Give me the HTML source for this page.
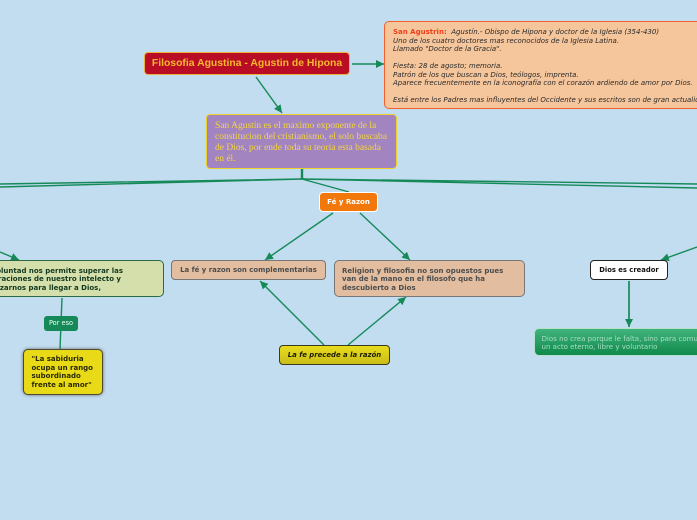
<!DOCTYPE html>
<html><head><meta charset="utf-8">
<style>
html,body{margin:0;padding:0}
body{width:697px;height:520px;background:#c2dcf0;position:relative;overflow:hidden;font-family:"DejaVu Sans","Liberation Sans",sans-serif}
.n{position:absolute;box-sizing:border-box;white-space:nowrap}
svg{position:absolute;left:0;top:0}
.l{position:absolute;white-space:nowrap;color:#12391f;font:bold 7px/8.5px "DejaVu Sans",sans-serif}
</style></head><body>
<svg width="697" height="520" viewBox="0 0 697 520">
<defs><marker id="a" markerUnits="userSpaceOnUse" markerWidth="9" markerHeight="8" refX="8" refY="4" orient="auto"><path d="M0 0L8 4L0 8z" fill="#158a58"/></marker></defs>
<g fill="none" stroke="#158a58" stroke-width="1.4">
<path d="M352 64H384" marker-end="url(#a)"/>
<path d="M256 77L282 113" marker-end="url(#a)"/>
<path d="M302 169V179" stroke-width="2.4"/>
<path d="M302 179L0 184M302 179L0 187M302 179L697 184M302 179L697 188M302 179L349 192"/>
<path d="M333 213L265 260" marker-end="url(#a)"/>
<path d="M360 213L410 260" marker-end="url(#a)"/>
<path d="M324 345L260 281" marker-end="url(#a)"/>
<path d="M348 345L406 297" marker-end="url(#a)"/>
<path d="M0 252L19 260" marker-end="url(#a)"/>
<path d="M697 247L661 260" marker-end="url(#a)"/>
<path d="M62 298L60 349"/>
<path d="M629 281V327" stroke-width="1.7" marker-end="url(#a)"/>
</g>
</svg>
<div class="n" style="left:144px;top:52px;width:206px;height:23px;background:#b90d25;border:1px solid #eeb13c;border-radius:4px;color:#f7b92c;font:bold 10.4px/22px 'Liberation Sans',sans-serif;text-align:center">Filosofia Agustina - Agustin de Hipona</div>
<div class="n" style="left:384px;top:21px;width:330px;height:88px;background:#f5c59b;border:1px solid #f4602c;border-radius:5px;color:#2b2b2b;font:italic 7px/8.5px 'DejaVu Sans',sans-serif;padding:6px 8px"><b style="color:#f0401a;font-style:normal">San Agustrin:</b>&nbsp; Agustín.- Obispo de Hipona y doctor de la Iglesia (354-430)<br>Uno de los cuatro doctores mas reconocidos de la Iglesia Latina.<br>Llamado "Doctor de la Gracia".<br><br>Fiesta: 28 de agosto; memoria.<br>Patrón de los que buscan a Dios, teólogos, imprenta.<br>Aparece frecuentemente en la iconografía con el corazón ardiendo de amor por Dios.<br><br>Está entre los Padres mas influyentes del Occidente y sus escritos son de gran actualidad</div>
<div class="n" style="left:206px;top:114px;width:191px;height:55px;background:#a184c0;border:1px solid #eed02c;border-radius:4px;color:#f5d73c;font:9.5px/11px 'Liberation Serif',serif;padding:5.5px 8px">San Agustín es el maximo exponente de la<br>constitucion del cristianismo, el solo buscaba<br>de Dios, por ende toda su teoria esta basada<br>en él.</div>
<div class="n" style="left:319px;top:192px;width:59px;height:20px;background:#f2780c;border:1px solid #fff;border-radius:4px;color:#fff;font:bold 7px/19px 'DejaVu Sans',sans-serif;text-align:center">Fé y Razon</div>
<div class="n" style="left:171px;top:260px;width:155px;height:20px;background:#e2bd9f;border:1px solid #777;border-radius:4px;color:#4d4d4d;font:bold 6.95px/19px 'DejaVu Sans',sans-serif;text-align:center">La fé y razon son complementarias</div>
<div class="n" style="left:334px;top:260px;width:191px;height:37px;background:#e2bd9f;border:1px solid #777;border-radius:5px;color:#4d4d4d;font:bold 7px/8.5px 'DejaVu Sans',sans-serif;padding:5.5px 7px">Religion y filosofia no son opuestos pues<br>van de la mano en el filosofo que ha<br>descubierto a Dios</div>
<div class="n" style="left:279px;top:345px;width:111px;height:20px;background:linear-gradient(#e9dc1e,#c9bd18);border:1px solid #3a3a20;border-radius:4px;color:#1c1c00;font:italic bold 6.9px/19px 'DejaVu Sans',sans-serif;text-align:center">La fe precede a la razón</div>
<div class="n" style="left:-20px;top:260px;width:184px;height:37px;background:#d5dfac;border:1px solid #2c6a45;border-radius:5px"></div>
<div class="l" style="right:574px;top:266.5px">La voluntad nos permite superar las</div>
<div class="l" style="right:576px;top:275px">aspiraciones de nuestro intelecto y</div>
<div class="l" style="right:596px;top:283.5px">esforzarnos para llegar a Dios,</div>
<div class="n" style="left:44px;top:316px;width:34px;height:15px;background:#158a58;border-radius:3px;color:#eafff3;font:6.6px/15px 'DejaVu Sans',sans-serif;text-align:center">Por eso</div>
<div class="n" style="left:23px;top:349px;width:80px;height:46px;background:#e8da16;border:1px solid #4a4a30;border-radius:5px;box-shadow:0 0 3px #666;color:#2a2a00;font:bold 7px/8.6px 'DejaVu Sans',sans-serif;padding:5px 7.5px">"La sabiduria<br>ocupa un rango<br>subordinado<br>frente al amor"</div>
<div class="n" style="left:590px;top:260px;width:78px;height:20px;background:#fff;border:1px solid #222;border-radius:4px;color:#111;font:bold 6.8px/19px 'DejaVu Sans',sans-serif;text-align:center">Dios es creador</div>
<div class="n" style="left:534px;top:328px;width:190px;height:28px;background:linear-gradient(#41b37c,#0f8a4c);border:1px solid #b7e0cb;border-radius:5px;color:#a8dfc3;font:7.05px/8.5px 'DejaVu Sans',sans-serif;padding:5.5px 6.5px">Dios no crea porque le falta, sino para comunicar,<br>un acto eterno, libre y voluntario</div>
</body></html>
